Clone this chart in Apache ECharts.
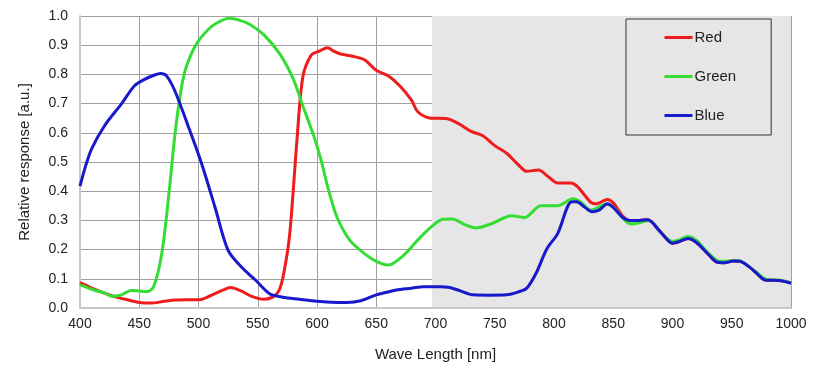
<!DOCTYPE html>
<html>
<head>
<meta charset="utf-8">
<script src="https://cdn.jsdelivr.net/npm/echarts@6/dist/echarts.min.js"></script>
<style>
html,body{margin:0;padding:0;background:#fff;}
#c{width:820px;height:367px;}
</style>
</head>
<body>
<div id="c"></div>
<script>
const seriesNames = ['Red', 'Green', 'Blue'];
const xTicks = [400, 450, 500, 550, 600, 650, 700, 750, 800, 850, 900, 950, 1000];
const shadeRange = [697, 1000];

const redData = [
  [400,0.087],[410,0.068],[420,0.052],[430,0.038],[440,0.028],[450,0.019],[460,0.017],[470,0.022],
  [480,0.027],[490,0.028],[500,0.028],[510,0.042],[520,0.06],[527,0.07],[535,0.06],[545,0.04],
  [555,0.03],[563,0.038],[568,0.06],[572,0.12],[577,0.254],[583,0.57],[588,0.79],[595,0.865],
  [602,0.88],[609,0.891],[614,0.88],[620,0.87],[630,0.862],[640,0.85],[650,0.814],[660,0.795],
  [670,0.76],[680,0.71],[685,0.672],[695,0.651],[710,0.648],[720,0.63],[730,0.605],[740,0.59],
  [750,0.556],[760,0.53],[770,0.49],[777,0.468],[787,0.473],[795,0.45],[803,0.428],[814,0.428],
  [820,0.415],[831,0.362],[836,0.357],[845,0.372],[850,0.36],[858,0.315],[864,0.30],[872,0.30],
  [879,0.302],[890,0.26],[900,0.222],[906,0.228],[913,0.238],[920,0.225],[930,0.185],[937,0.158],
  [944,0.155],[951,0.161],[957,0.16],[965,0.14],[972,0.115],[978,0.096],[990,0.094],[1000,0.086]
];
const greenData = [
  [400,0.079],[413,0.06],[420,0.053],[427,0.04],[435,0.045],[443,0.06],[450,0.058],[456,0.056],
  [462,0.072],[469,0.186],[475,0.39],[480,0.59],[485,0.74],[489,0.817],[495,0.88],[500,0.915],
  [508,0.953],[515,0.975],[526,0.992],[535,0.985],[543,0.972],[555,0.936],[569,0.868],[580,0.784],
  [588,0.693],[597,0.592],[603,0.513],[610,0.40],[617,0.31],[628,0.231],[642,0.18],[650,0.16],
  [660,0.147],[673,0.18],[680,0.21],[690,0.254],[700,0.29],[706,0.304],[714,0.305],[725,0.285],
  [734,0.274],[748,0.29],[764,0.316],[775,0.31],[789,0.35],[803,0.35],[816,0.374],[822,0.365],
  [831,0.335],[844,0.355],[850,0.345],[860,0.3],[865,0.288],[870,0.29],[880,0.3],[890,0.26],
  [900,0.228],[905,0.232],[913,0.245],[920,0.232],[930,0.19],[940,0.16],[950,0.162],[955,0.163],
  [960,0.155],[970,0.125],[980,0.097],[990,0.095],[1000,0.087]
];
const blueData = [
  [400,0.417],[405,0.49],[410,0.547],[421,0.626],[435,0.699],[446,0.761],[455,0.784],[463,0.798],
  [468,0.803],[473,0.795],[480,0.744],[491,0.626],[503,0.49],[514,0.344],[525,0.197],[536,0.141],
  [548,0.096],[560,0.049],[571,0.037],[585,0.03],[600,0.023],[612,0.02],[625,0.019],[637,0.025],
  [650,0.045],[660,0.055],[667,0.062],[680,0.068],[690,0.073],[704,0.073],[712,0.07],[720,0.06],
  [732,0.045],[745,0.044],[760,0.045],[770,0.055],[777,0.068],[785,0.12],[794,0.203],[803,0.254],
  [815,0.364],[819,0.364],[826,0.345],[832,0.33],[838,0.335],[845,0.357],[850,0.345],[858,0.31],
  [864,0.30],[872,0.30],[879,0.302],[890,0.26],[900,0.222],[906,0.228],[913,0.238],[920,0.225],
  [930,0.185],[937,0.158],[944,0.155],[951,0.161],[957,0.16],[965,0.14],[972,0.115],[978,0.096],
  [990,0.094],[1000,0.085]
];

const colors = ['#ee1c1c', '#33dd33', '#1818cc'];
const datas = [redData, greenData, blueData];
const FONT = '"Liberation Sans", Arial, sans-serif';

const chart = echarts.init(document.getElementById('c'), null, {renderer: 'canvas'});
const series = seriesNames.map((n, i) => ({
  name: n,
  type: 'line',
  data: datas[i],
  symbol: 'none',
  smooth: 0.3,
  clip: false,
  z: 3 + i,
  lineStyle: {color: colors[i], width: 3},
  itemStyle: {color: colors[i]}
}));
series[0].markArea = {
  silent: true,
  itemStyle: {color: '#e6e6e6'},
  z: 0,
  data: [[{xAxis: shadeRange[0], yAxis: 1.023}, {xAxis: shadeRange[1], yAxis: 0}]]
};

chart.setOption({
  animation: false,
  backgroundColor: '#fff',
  textStyle: {fontFamily: FONT},
  grid: {left: 80, right: 29, top: 16, bottom: 55, containLabel: false},
  legend: {
    data: seriesNames,
    orient: 'vertical',
    left: 626, top: 19,
    padding: [11, 35, 12, 37],
    itemWidth: 28, itemHeight: 14, itemGap: 24,
    backgroundColor: '#e6e6e6',
    borderColor: '#333', borderWidth: 1,
    itemStyle: {opacity: 0},
    lineStyle: {width: 3},
    textStyle: {fontFamily: FONT, fontSize: 15, color: '#222', padding: [0,0,0,-3]},
    z: 10
  },
  xAxis: {
    type: 'value', min: 400, max: 1000, interval: 50,
    name: 'Wave Length [nm]', nameLocation: 'middle', nameGap: 39,
    nameTextStyle: {fontFamily: FONT, fontSize: 15, color: '#222'},
    axisLine: {show: true, lineStyle: {color: '#c8c8c8', width: 2}},
    axisTick: {show: false},
    axisLabel: {fontFamily: FONT, fontSize: 14, color: '#222', margin: 9,
      formatter: v => (xTicks.indexOf(v) >= 0 ? String(v) : '')},
    splitLine: {show: true, lineStyle: {color: '#a0a0a0', width: 1}}
  },
  yAxis: {
    type: 'value', min: 0, max: 1, interval: 0.1,
    name: 'Relative response [a.u.]', nameLocation: 'middle', nameGap: 48, nameRotate: 90,
    nameTextStyle: {fontFamily: FONT, fontSize: 15, color: '#222'},
    axisLine: {show: true, lineStyle: {color: '#c8c8c8', width: 2}},
    axisTick: {show: false},
    axisLabel: {fontFamily: FONT, fontSize: 14, color: '#222', margin: 12, formatter: v => v.toFixed(1)},
    splitLine: {show: true, lineStyle: {color: '#a0a0a0', width: 1}}
  },
  series: series
});
</script>
</body>
</html>
